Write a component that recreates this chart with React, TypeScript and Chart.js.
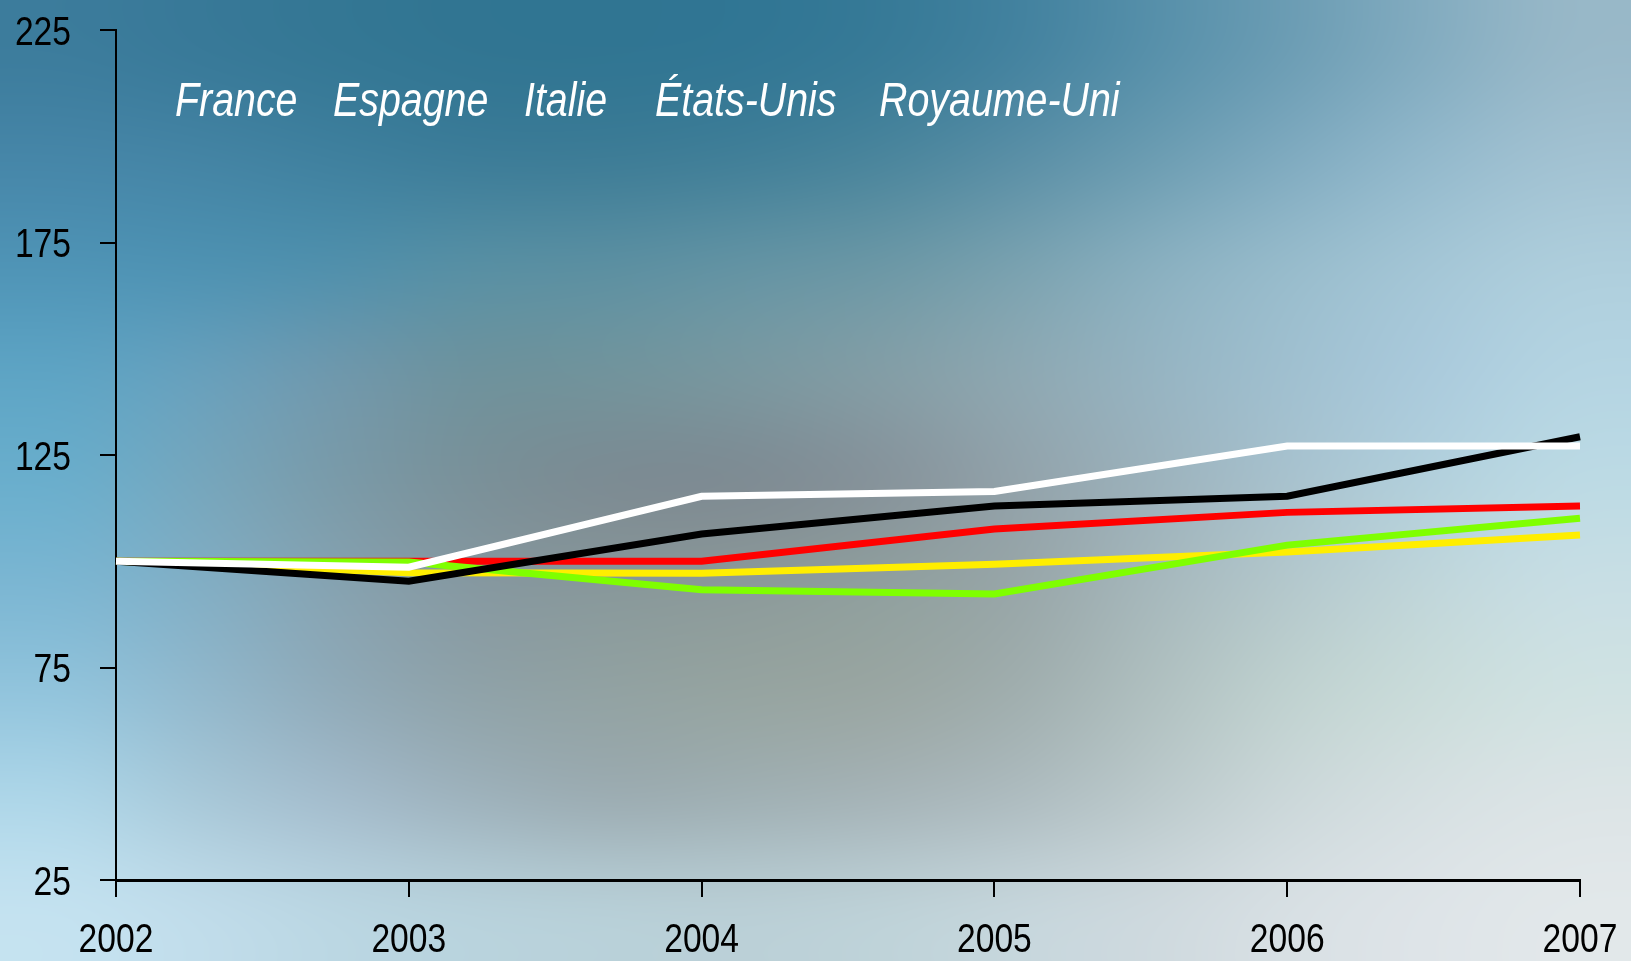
import React, { useEffect, useRef } from 'react';
import { Chart, registerables } from 'chart.js';

Chart.register(...registerables);

// ---- Data ----
const years = ['2002', '2003', '2004', '2005', '2006', '2007'];
const countries = ['France', 'Espagne', 'Italie', 'États-Unis', 'Royaume-Uni'];
const franceValues = [100, 98.6, 115.3, 116.4, 127.1, 127.1];
const espagneValues = [100, 95.3, 106.4, 113.0, 115.3, 129.3];
const italieValues = [100, 100, 100, 107.6, 111.5, 113.0];
const etatsUnisValues = [100, 99.8, 93.3, 92.3, 103.8, 110.1];
const royaumeUniValues = [100, 97.3, 97.2, 99.3, 102.2, 106.2];
const yTickValues = [25, 75, 125, 175, 225];

// ---- Styles ----
const seriesColors = ['#ffffff', '#000000', '#ff0000', '#7fff00', '#ffee00'];
const drawOrder = [0, 1, 3, 2, 4];
const FONT = '"Liberation Sans", Arial, sans-serif';
const NARROW = 0.82; // horizontal squeeze to imitate a condensed face
const TICK_SIZE = 41;
const LEGEND_SIZE = 48;

// background colour grid (blurred photo backdrop), upscaled smoothly
const BG = [
  ['#3c7c9c', '#387998', '#347794', '#317592', '#307592', '#317694', '#377a97', '#43829f', '#5790aa', '#6c9db4', '#83acc0', '#98b8c8'],
  ['#4686a8', '#4484a4', '#3f809e', '#3c7c98', '#3d7c96', '#417f98', '#4a859c', '#5a8fa6', '#6c9db2', '#80abc0', '#93b9cc', '#a2c2d2'],
  ['#4f94b6', '#4e92b2', '#5090ac', '#5890a4', '#5c90a2', '#6494a4', '#6c98a6', '#7aa2b0', '#8ab0c0', '#98bccc', '#a4c6d6', '#aecedc'],
  ['#5ea4c4', '#68a0bc', '#7098ac', '#6e929c', '#72949c', '#7a98a0', '#849ea6', '#8ea8b2', '#96b4c2', '#a0c0d0', '#aacadc', '#b4d4e2'],
  ['#6aaecc', '#76a6bc', '#7a9aa8', '#7a9098', '#7c8a92', '#7e8a92', '#86929a', '#92a2aa', '#9cb2bc', '#a8c2ce', '#b2d0dc', '#bcdae4'],
  ['#7cb6d2', '#82aec4', '#86a2b0', '#8698a0', '#88989a', '#8c9a9a', '#90a09e', '#98a6a8', '#a6b8bc', '#b4c8cc', '#c0d6da', '#c8dee4'],
  ['#92c4dc', '#92b8cc', '#90aab8', '#8fa2a8', '#92a2a2', '#96a4a0', '#9aa6a2', '#a0aeae', '#b0c0c0', '#c0d2d0', '#cadcda', '#d0e2e2'],
  ['#aed6e8', '#a8c8d8', '#a4bccc', '#9eb2bc', '#9cacb2', '#a0b0b4', '#a6b4b8', '#aebcc0', '#bccacc', '#ccd8da', '#d6e0e2', '#dce4e6'],
  ['#c4e2f0', '#c0dcea', '#bad6e2', '#b8d2dc', '#b8d0d8', '#bacfd6', '#bed2d8', '#c6d6dc', '#ced9de', '#d8e0e4', '#dee4e8', '#e2e8ea'],
];

const LEGEND_OFFSETS = [59, 217, 408, 539, 763];
const LEGEND_BASELINE = 86;

function narrowText(ctx: any, text: string, x: number, y: number, align: 'left' | 'right' | 'center') {
  ctx.save();
  ctx.translate(x, y);
  ctx.scale(NARROW, 1);
  ctx.textAlign = align;
  ctx.textBaseline = 'alphabetic';
  ctx.fillText(text, 0, 0);
  ctx.restore();
}

const bgPlugin = {
  id: 'photoBackground',
  beforeDraw(chart: any) {
    const { ctx, width, height } = chart;
    const rows = BG.length;
    const cols = BG[0].length;
    const off = document.createElement('canvas');
    off.width = cols;
    off.height = rows;
    const octx = off.getContext('2d')!;
    BG.forEach((row, j) =>
      row.forEach((c, i) => {
        octx.fillStyle = c;
        octx.fillRect(i, j, 1, 1);
      })
    );
    ctx.save();
    ctx.imageSmoothingEnabled = true;
    ctx.imageSmoothingQuality = 'high';
    ctx.drawImage(off, 0, 0, width, height);
    ctx.restore();
  },
};

// condensed tick labels, placed from the chart's own scales
const tickLabelPlugin = {
  id: 'condensedTickLabels',
  afterDraw(chart: any) {
    const { ctx } = chart;
    const xs = chart.scales.x;
    const ys = chart.scales.y;
    ctx.save();
    ctx.fillStyle = '#000';
    ctx.font = `${TICK_SIZE}px ${FONT}`;
    const capHalf = TICK_SIZE * 0.358;
    ys.ticks.forEach((t: any, i: number) => {
      const y = ys.getPixelForTick(i);
      narrowText(ctx, String(t.label ?? t.value), ys.right - 16 - 29, y + capHalf, 'right');
    });
    xs.ticks.forEach((t: any, i: number) => {
      const x = xs.getPixelForTick(i);
      const label = chart.data.labels[t.value] ?? t.label;
      narrowText(ctx, String(label), x, xs.top + 72, 'center');
    });
    ctx.restore();
  },
};

const textLegendPlugin = {
  id: 'textLegend',
  afterDraw(chart: any) {
    const { ctx, chartArea } = chart;
    ctx.save();
    ctx.font = `italic ${LEGEND_SIZE}px ${FONT}`;
    ctx.fillStyle = '#ffffff';
    chart.data.datasets.forEach((ds: any, i: number) => {
      narrowText(ctx, ds.label, chartArea.left + LEGEND_OFFSETS[i], chartArea.top + LEGEND_BASELINE, 'left');
    });
    ctx.restore();
  },
};

function zeroPadding(scale: any) {
  scale.paddingTop = 0;
  scale.paddingBottom = 0;
  scale.paddingLeft = 0;
  scale.paddingRight = 0;
}

export default function App() {
  const canvasRef = useRef<HTMLCanvasElement | null>(null);

  useEffect(() => {
    document.body.style.margin = '0';
    document.body.style.overflow = 'hidden';
    const canvas = canvasRef.current;
    if (!canvas) return;
    const seriesValues = [franceValues, espagneValues, italieValues, etatsUnisValues, royaumeUniValues];
    const chart = new Chart(canvas, {
      type: 'line',
      data: {
        labels: years,
        datasets: countries.map((name, i) => ({
          label: name,
          data: seriesValues[i],
          borderColor: seriesColors[i],
          backgroundColor: seriesColors[i],
          borderWidth: 7,
          pointRadius: 0,
          pointHoverRadius: 0,
          tension: 0,
          fill: false,
          borderCapStyle: 'butt',
          borderJoinStyle: 'miter',
          order: drawOrder[i],
        })),
      },
      plugins: [bgPlugin, tickLabelPlugin, textLegendPlugin],
      options: {
        responsive: false,
        animation: false,
        events: [],
        layout: { padding: { top: 30, right: 51, bottom: 0, left: 0 } },
        plugins: {
          legend: { display: false },
          tooltip: { enabled: false },
          title: { display: false },
        },
        scales: {
          x: {
            type: 'category',
            offset: false,
            afterFit(scale: any) {
              scale.height = 81;
              zeroPadding(scale);
            },
            grid: {
              drawOnChartArea: false,
              drawTicks: true,
              tickLength: 17,
              color: '#000',
              lineWidth: 2,
            },
            border: { display: true, color: '#000', width: 3 },
            ticks: { display: false, autoSkip: false, maxRotation: 0 },
          },
          y: {
            type: 'linear',
            min: yTickValues[0],
            max: yTickValues[yTickValues.length - 1],
            afterBuildTicks(scale: any) {
              scale.ticks = yTickValues.map((v) => ({ value: v }));
            },
            afterFit(scale: any) {
              scale.width = 116;
              zeroPadding(scale);
            },
            grid: {
              drawOnChartArea: false,
              drawTicks: true,
              tickLength: 16,
              color: '#000',
              lineWidth: 2,
            },
            border: { display: true, color: '#000', width: 2 },
            ticks: { display: false },
          },
        },
      },
    } as any);
    return () => chart.destroy();
  }, []);

  return (
    <div style={{ width: 1631, height: 961, overflow: 'hidden' }}>
      <canvas ref={canvasRef} width={1631} height={961} style={{ display: 'block', width: 1631, height: 961 }} />
    </div>
  );
}
